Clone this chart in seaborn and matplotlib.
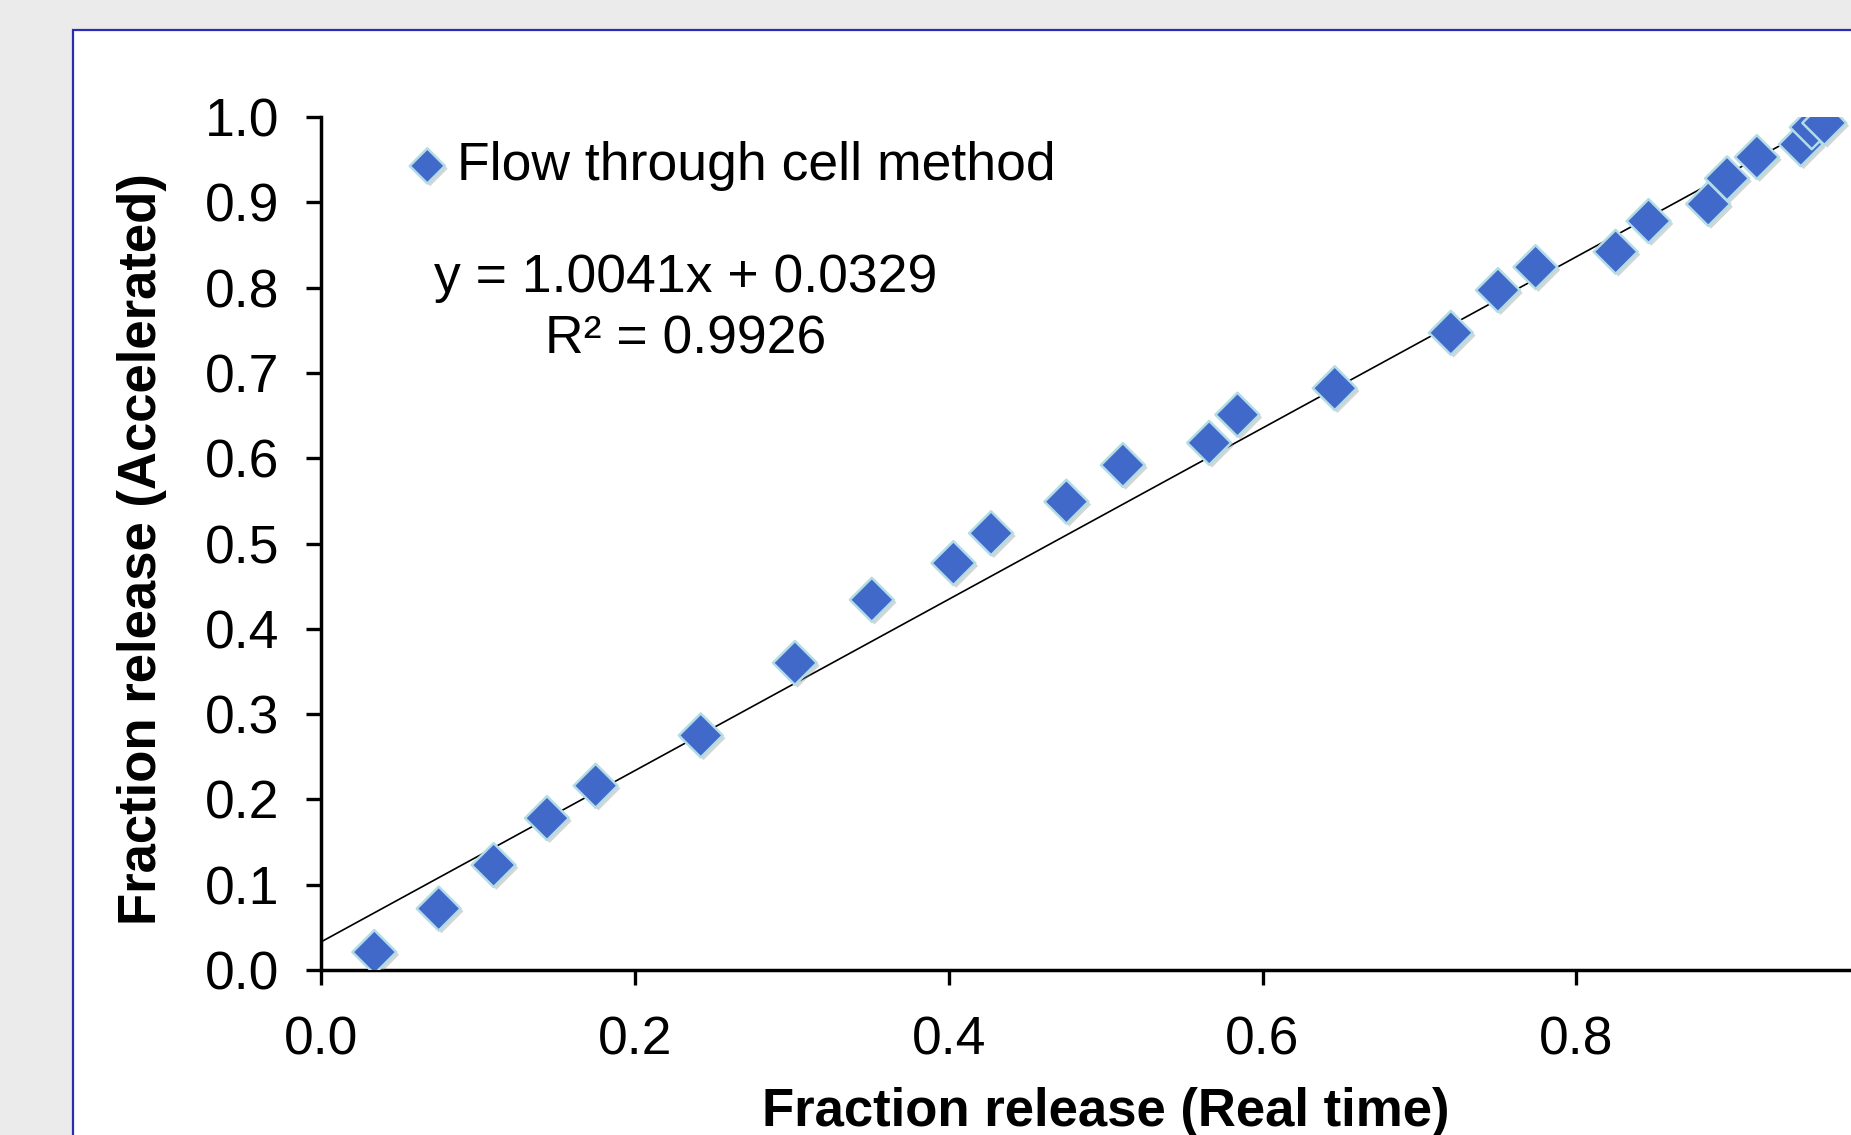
import numpy as np
import pandas as pd
import matplotlib
matplotlib.use("Agg")
import matplotlib.pyplot as plt
import matplotlib.patheffects as pe
from matplotlib.patches import Rectangle
import seaborn as sns

# values
real_time = [0.034, 0.075, 0.110, 0.144, 0.175, 0.242, 0.302, 0.351, 0.403, 0.427,
             0.475, 0.511, 0.566, 0.584, 0.646, 0.720, 0.750, 0.774, 0.825, 0.846,
             0.884, 0.896, 0.915, 0.943, 0.950, 0.958]
accelerated = [0.021, 0.072, 0.123, 0.178, 0.216, 0.275, 0.360, 0.434, 0.477, 0.512,
               0.549, 0.592, 0.618, 0.651, 0.682, 0.747, 0.797, 0.824, 0.842, 0.878,
               0.898, 0.928, 0.953, 0.968, 0.988, 0.993]
slope = 1.0041
intercept = 0.0329
r_squared = 0.9926
series_name = "Flow through cell method"
x_ticks = [0.0, 0.2, 0.4, 0.6, 0.8]
y_ticks = [0.0, 0.1, 0.2, 0.3, 0.4, 0.5, 0.6, 0.7, 0.8, 0.9, 1.0]

df = pd.DataFrame({"real": real_time, "acc": accelerated})

sns.set_style("ticks")
plt.rcParams["font.family"] = ["Liberation Sans", "DejaVu Sans"]
plt.rcParams["text.color"] = "black"
plt.rcParams["axes.labelcolor"] = "black"
plt.rcParams["legend.labelcolor"] = "black"

W, H = 1851, 1135
fig = plt.figure(figsize=(W / 100, H / 100), dpi=100)
fig.patch.set_facecolor("#EBEBEB")

# white panel with blue border
frame = Rectangle((73 / W, -0.1), 1.2, (H - 30) / H + 0.1, transform=fig.transFigure,
                  facecolor="white", edgecolor="#2B2BB5", linewidth=1.6, zorder=-10)
fig.patches.append(frame)

ax_left, ax_bottom, ax_top = 321 / W, 165 / H, (H - 117) / H
ax = fig.add_axes([ax_left, ax_bottom, 1 - ax_left, ax_top - ax_bottom])
ax.set_facecolor("none")

# trendline
line_x = np.array([0.0, max(real_time)])
sns.lineplot(x=line_x, y=slope * line_x + intercept, color="black", linewidth=1.2, ax=ax)

sns.scatterplot(data=df, x="real", y="acc", marker="D", s=500, color="#4169C9",
                edgecolor="#B2DCE6", linewidth=1.8, ax=ax, label=series_name, zorder=3)
ax.collections[-1].set_path_effects([pe.SimplePatchShadow(offset=(2, -2), shadow_rgbFace="#888888", alpha=0.35),
                                     pe.Normal()])

ax.set_xlim(0, 0.975)
ax.set_ylim(0, 1.0)
ax.set_xticks(x_ticks)
ax.set_yticks(y_ticks)
ax.set_xticklabels([f"{v:.1f}" for v in x_ticks])
ax.set_yticklabels([f"{v:.1f}" for v in y_ticks])
ax.tick_params(axis="both", labelsize=38.5, width=2.4, length=11, color="black", labelcolor="black")
ax.tick_params(axis="x", pad=22)
ax.tick_params(axis="y", pad=19)
for s in ["top", "right"]:
    ax.spines[s].set_visible(False)
for s in ["left", "bottom"]:
    ax.spines[s].set_linewidth(2.5)
    ax.spines[s].set_color("black")

ax.set_xlabel("Fraction release (Real time)", fontsize=38, fontweight="bold", va="center")
ax.set_ylabel("Fraction release (Accelerated)", fontsize=38, fontweight="bold", va="center")
ax.xaxis.set_label_coords(0.513, -0.167)
ax.yaxis.set_label_coords(-0.117, 0.4936)

ax.legend(loc="center left", bbox_to_anchor=(0.059, 0.9426), frameon=False, fontsize=38.5,
          handlelength=0.6, handletextpad=0.25, borderpad=0, borderaxespad=0, markerscale=0.8)

ax.text(0.238, 0.775, f"y = {slope:.4f}x + {intercept:.4f}\nR² = {r_squared:.4f}",
        transform=ax.transAxes, ha="center", va="center", multialignment="center",
        fontsize=38.5, linespacing=1.3, color="black")

fig.savefig("out.png", dpi=100, facecolor=fig.get_facecolor())
